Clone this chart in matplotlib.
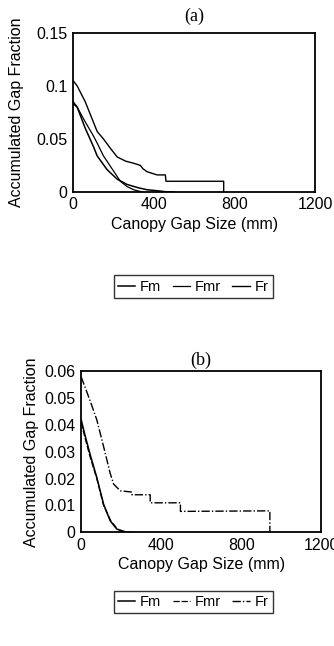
import numpy as np
import matplotlib.pyplot as plt

plt.rcParams['font.family'] = ['Liberation Sans', 'DejaVu Sans']

# panel (a): accumulated gap fraction vs canopy gap size (mm)
a_fm_x = [0, 20, 60, 100, 119, 168, 218, 267, 320, 366, 420, 465, 500]
a_fm_y = [0.085, 0.080, 0.060, 0.043, 0.034, 0.021, 0.012, 0.007, 0.004, 0.002, 0.001, 0.0, 0.0]
a_fmr_x = [0, 20, 60, 100, 119, 150, 185, 234, 267, 300, 340]
a_fmr_y = [0.083, 0.080, 0.066, 0.053, 0.046, 0.034, 0.024, 0.010, 0.005, 0.002, 0.0]
a_fr_x = [0, 20, 60, 100, 119, 150, 185, 218, 260, 300, 333, 345, 366, 416, 457, 460, 746, 746]
a_fr_y = [0.105, 0.100, 0.085, 0.066, 0.057, 0.050, 0.041, 0.033, 0.029, 0.027, 0.025, 0.022,
          0.019, 0.016, 0.016, 0.010, 0.010, 0.0]

# panel (b)
b_fm_x = [0, 20, 45, 78, 112, 145, 178, 229, 260]
b_fm_y = [0.042, 0.036, 0.029, 0.0205, 0.0105, 0.0043, 0.0012, 0.0, 0.0]
b_fmr_x = [0, 20, 45, 78, 112, 150, 185, 220]
b_fmr_y = [0.041, 0.035, 0.028, 0.020, 0.010, 0.004, 0.001, 0.0]
b_fr_x = [0, 20, 45, 78, 112, 145, 162, 195, 254, 254, 345, 345, 496, 496, 943, 943]
b_fr_y = [0.058, 0.054, 0.049, 0.042, 0.032, 0.022, 0.018, 0.0155, 0.015, 0.014, 0.014, 0.011,
          0.011, 0.0078, 0.008, 0.0]

series_names = ['Fm', 'Fmr', 'Fr']

fig = plt.figure(figsize=(3.34, 6.46), dpi=100)
ax1 = fig.add_axes([0.219, 0.703, 0.725, 0.246])
ax2 = fig.add_axes([0.243, 0.176, 0.719, 0.249])

ax1.plot(a_fm_x, a_fm_y, color='black', lw=1.1, label=series_names[0])
ax1.plot(a_fmr_x, a_fmr_y, color='black', lw=0.9, label=series_names[1])
ax1.plot(a_fr_x, a_fr_y, color='black', lw=1.0, label=series_names[2])
ax1.set_xlim(0, 1200)
ax1.set_ylim(0, 0.15)
ax1.set_xticks([0, 400, 800, 1200])
ax1.set_yticks([0, 0.05, 0.1, 0.15])
ax1.set_yticklabels(['0', '0.05', '0.1', '0.15'])

ax2.plot(b_fm_x, b_fm_y, color='black', lw=1.1, label=series_names[0])
ax2.plot(b_fmr_x, b_fmr_y, color='black', lw=0.9, ls=(0, (5, 1.5)), label=series_names[1])
ax2.plot(b_fr_x, b_fr_y, color='black', lw=1.0, ls=(0, (6, 1.5, 1, 1.5)), label=series_names[2])
ax2.set_xlim(0, 1200)
ax2.set_ylim(0, 0.06)
ax2.set_xticks([0, 400, 800, 1200])
ax2.set_yticks([0, 0.01, 0.02, 0.03, 0.04, 0.05, 0.06])
ax2.set_yticklabels(['0', '0.01', '0.02', '0.03', '0.04', '0.05', '0.06'])

for ax, tag, tpad, ypad, legy in [(ax1, '(a)', 9, 9, 0.556), (ax2, '(b)', 5, 4, 0.068)]:
    ax.set_title(tag, fontsize=13, family='Liberation Serif', pad=tpad)
    ax.set_xlabel('Canopy Gap Size (mm)', fontsize=11.5, labelpad=3)
    ax.set_ylabel('Accumulated Gap Fraction', fontsize=11.5, labelpad=ypad)
    ax.tick_params(labelsize=11.5, length=0, pad=4)
    for s in ax.spines.values():
        s.set_linewidth(1.3)
    handles, labels = ax.get_legend_handles_labels()
    leg = fig.legend(handles, labels, loc='center', bbox_to_anchor=(0.578, legy),
                     ncol=3, fontsize=10.5, frameon=True, fancybox=False,
                     handlelength=1.2, handletextpad=0.3, columnspacing=0.8,
                     borderpad=0.3, edgecolor='black')
    leg.get_frame().set_linewidth(1.0)

fig.savefig('out.png', dpi=100)
